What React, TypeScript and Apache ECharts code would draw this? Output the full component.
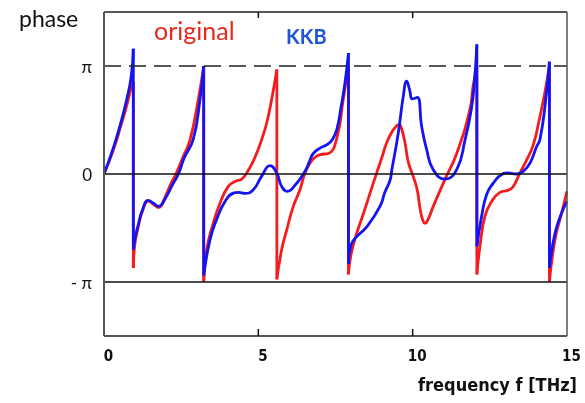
import React, { useEffect, useRef } from "react";
import * as echarts from "echarts";

// Phase in units of π versus frequency in THz; repeated frequency = 2π wrap
const origFreq = [
  0, 0.3, 0.55, 0.75, 0.88, 0.95, 0.95, 1.0, 1.11, 1.25, 1.435, 1.6, 1.76, 2.0, 2.15, 2.33, 2.55, 2.79, 3.055, 3.23,
  3.23, 3.327, 3.541, 3.758, 4.027, 4.244, 4.461, 4.623, 4.836, 4.998, 5.109, 5.27, 5.432, 5.6,
  5.6, 5.756, 5.918, 6.132, 6.349, 6.5, 6.673, 6.78, 7.0, 7.27, 7.54, 7.75, 7.92,
  7.92, 8.0, 8.186, 8.4, 8.617, 8.834, 9.0, 9.158, 9.35, 9.5, 9.566, 9.62, 9.751, 9.85, 9.95, 10.05, 10.15, 10.24,
  10.33, 10.4, 10.5, 10.667, 11.046, 11.426, 11.856, 11.95, 12.08,
  12.08, 12.18, 12.342, 12.559, 12.828, 13.097, 13.259, 13.476, 13.693, 13.907, 14.1, 14.28, 14.43,
  14.43, 14.61, 14.827, 15,
];
const origPhase = [
  0, 0.22, 0.45, 0.65, 0.8, 0.86, -0.87, -0.65, -0.49, -0.34, -0.25, -0.28, -0.31, -0.2, -0.1, 0, 0.15, 0.32, 0.69, 1.0,
  -1.0, -0.7, -0.455, -0.27, -0.115, -0.07, -0.047, 0.01, 0.12, 0.23, 0.32, 0.47, 0.69, 0.967,
  -0.975, -0.7, -0.52, -0.3, -0.146, 0, 0.1, 0.14, 0.18, 0.19, 0.33, 0.69, 1.0,
  -0.93, -0.75, -0.55, -0.37, -0.18, 0.01, 0.15, 0.29, 0.4, 0.45, 0.457, 0.44, 0.29, 0.12, 0.03, -0.05, -0.15, -0.32,
  -0.43, -0.455, -0.42, -0.3, -0.05, 0.19, 0.6, 0.8, 1.0,
  -0.93, -0.67, -0.39, -0.255, -0.17, -0.15, -0.115, 0.01, 0.13, 0.27, 0.5, 0.75, 1.0,
  -1.0, -0.61, -0.36, -0.16,
];

const kkbFreq = [
  0, 0.3, 0.55, 0.735, 0.88, 0.95, 0.95, 1.0, 1.11, 1.25, 1.435, 1.6, 1.76, 2.0, 2.2, 2.41, 2.6, 2.89, 3.11, 3.23,
  3.23, 3.434, 3.651, 3.92, 4.189, 4.351, 4.568, 4.836, 5.109, 5.377, 5.594, 5.756, 5.938, 6.242, 6.456, 6.566, 6.673,
  6.78, 7.0, 7.214, 7.4, 7.55, 7.68, 7.81, 7.92,
  7.92, 8.0, 8.186, 8.51, 8.941, 9.1, 9.265, 9.32, 9.534, 9.696, 9.806, 9.9, 9.99, 10.149, 10.292, 10.454, 10.667,
  11.046, 11.426, 11.7, 11.9, 12.0, 12.08,
  12.08, 12.235, 12.397, 12.611, 12.828, 13.045, 13.369, 13.583, 13.8, 14.017, 14.124, 14.3, 14.43,
  14.43, 14.61, 14.827, 15,
];
const kkbPhase = [
  0, 0.24, 0.48, 0.69, 0.9, 1.16, -0.7, -0.6, -0.47, -0.33, -0.245, -0.27, -0.3, -0.22, -0.11, 0, 0.15, 0.32, 0.69, 1.0,
  -0.94, -0.61, -0.42, -0.255, -0.177, -0.17, -0.18, -0.146, -0.02, 0.077, 0.01, -0.115, -0.16, -0.085, 0, 0.055, 0.13,
  0.19, 0.24, 0.27, 0.32, 0.42, 0.62, 0.85, 1.12,
  -0.83, -0.66, -0.58, -0.49, -0.3, -0.17, -0.06, 0.03, 0.38, 0.72, 0.86, 0.78, 0.695, 0.71, 0.44, 0.225, 0.04,
  -0.047, 0.04, 0.32, 0.6, 0.85, 1.2,
  -0.67, -0.39, -0.19, -0.085, -0.016, 0.01, 0, 0.024, 0.1, 0.255, 0.32, 0.66, 1.04,
  -0.87, -0.55, -0.36, -0.255,
];

const freqTicks = [0, 5, 10, 15];
const innerFreqTicks = [5, 10];
const phaseTicks = [-1, 0, 1];
const phaseTickLabels = ["- π", "0", "π"];
const referenceLines = [1, 0, -1];
const FREQ_MIN = 0;
const FREQ_MAX = 15;
const PHASE_MIN = -1.5;
const PHASE_MAX = 1.5;

const RED = "#f41c1c";
const BLUE = "#1414f2";
const FRAME = "#555";
const narrowBold = "'Liberation Sans Narrow', 'DejaVu Sans Condensed', 'Arial Narrow', sans-serif";
const humanist = "Lato, 'Open Sans', sans-serif";

const GRID = { left: 104, top: 12, width: 463, height: 324 };

type Pt = [number, number | string];

// Split a wrapped phase trace into smooth branches and the vertical 2π wraps between them
function splitBranches(freq: number[], phase: number[]) {
  const branches: Pt[] = [];
  const wraps: Pt[] = [];
  for (let i = 0; i < freq.length; i++) {
    if (i > 0 && freq[i] === freq[i - 1]) {
      branches.push([freq[i], "-"]);
      wraps.push([freq[i - 1], phase[i - 1]], [freq[i], phase[i]], [freq[i], "-"]);
    }
    branches.push([freq[i], phase[i]]);
  }
  return { branches, wraps };
}

export default function App() {
  const ref = useRef<HTMLDivElement>(null);

  useEffect(() => {
    if (!ref.current) return;
    const chart = echarts.init(ref.current, null, { renderer: "svg" });
    const orig = splitBranches(origFreq, origPhase);
    const kkb = splitBranches(kkbFreq, kkbPhase);

    const curve = (name: string, data: Pt[], color: string, smooth: boolean | number) => ({
      name,
      type: "line",
      data,
      smooth,
      connectNulls: false,
      symbol: "none",
      showSymbol: false,
      silent: true,
      lineStyle: { color, width: 2.8 },
      z: 3,
    });

    const levelLines = referenceLines.map((y) =>
      y === 1
        ? { yAxis: y, lineStyle: { color: "#222", width: 1.5, type: [17, 8] } }
        : { yAxis: y, lineStyle: { color: "#111", width: 1.5, type: "solid" } }
    );

    chart.setOption({
      animation: false,
      grid: GRID,
      xAxis: {
        type: "value",
        min: FREQ_MIN,
        max: FREQ_MAX,
        interval: 5,
        axisLine: { show: false },
        axisTick: { show: false },
        axisLabel: {
          show: true,
          margin: 12,
          padding: [0, 0, 0, 9],
          color: "#111",
          fontFamily: narrowBold,
          fontWeight: "bold",
          fontSize: 15,
          formatter: (v: number) => (freqTicks.includes(v) ? String(v) : ""),
        },
        splitLine: { show: false },
      },
      yAxis: {
        type: "value",
        min: PHASE_MIN,
        max: PHASE_MAX,
        interval: 0.5,
        axisLine: { show: false },
        axisTick: { show: false },
        axisLabel: {
          show: true,
          margin: 12,
          color: "#111",
          fontFamily: humanist,
          fontSize: 17,
          formatter: (v: number) => {
            const k = phaseTicks.indexOf(v);
            return k >= 0 ? phaseTickLabels[k] : "";
          },
        },
        splitLine: { show: false },
      },
      series: [
        {
          name: "levels",
          type: "line",
          data: [
            [FREQ_MIN, 0],
            [FREQ_MAX, 0],
          ],
          symbol: "none",
          silent: true,
          lineStyle: { opacity: 0 },
          z: 1,
          markLine: {
            silent: true,
            symbol: ["none", "none"],
            label: { show: false },
            data: levelLines,
          },
        },
        curve("original", orig.branches, RED, 0.5),
        curve("original wraps", orig.wraps, RED, false),
        curve("KKB", kkb.branches, BLUE, 0.5),
        curve("KKB wraps", kkb.wraps, BLUE, false),
      ],
    });

    const labels = [
      {
        type: "text",
        left: 19,
        top: 6,
        style: { text: "phase", fontFamily: humanist, fontSize: 23, fill: "#111" },
      },
      {
        type: "text",
        left: 154,
        top: 17,
        style: { text: "original", fontFamily: humanist, fontSize: 25, fill: "#e8281c" },
      },
      {
        type: "text",
        left: 286,
        top: 26,
        style: { text: "KKB", fontFamily: humanist, fontWeight: "bold", fontSize: 20, fill: "#1f55d6" },
      },
      {
        type: "text",
        right: 8,
        top: 375,
        style: {
          text: "frequency f [THz]",
          fontFamily: narrowBold,
          fontWeight: "bold",
          fontSize: 18,
          fill: "#111",
        },
      },
    ];

    // plot frame and inward ticks, placed through the axes' own scales
    const [x0, yBottom] = chart.convertToPixel({ gridIndex: 0 }, [FREQ_MIN, PHASE_MIN]) as number[];
    const [x1, yTop] = chart.convertToPixel({ gridIndex: 0 }, [FREQ_MAX, PHASE_MAX]) as number[];
    const seg = (ax: number, ay: number, bx: number, by: number, stroke: string, lineWidth: number) => ({
      type: "line",
      silent: true,
      z: 10,
      shape: { x1: ax, y1: ay, x2: bx, y2: by },
      style: { stroke, lineWidth },
    });
    const ticks = innerFreqTicks.flatMap((f) => {
      const [x] = chart.convertToPixel({ gridIndex: 0 }, [f, 0]) as number[];
      return [seg(x, yBottom, x, yBottom - 7, "#111", 1.5), seg(x, yTop, x, yTop + 6, "#111", 1.5)];
    });

    chart.setOption({
      graphic: [
        ...labels,
        seg(x0, yTop, x1, yTop, "#222", 1.5),
        seg(x0, yBottom, x1, yBottom, FRAME, 2),
        seg(x0, yTop, x0, yBottom, FRAME, 2),
        seg(x1, yTop, x1, yBottom, FRAME, 1.5),
        ...ticks,
      ],
    });

    return () => chart.dispose();
  }, []);

  return <div ref={ref} style={{ position: "fixed", left: 0, top: 0, width: 585, height: 403 }} />;
}
